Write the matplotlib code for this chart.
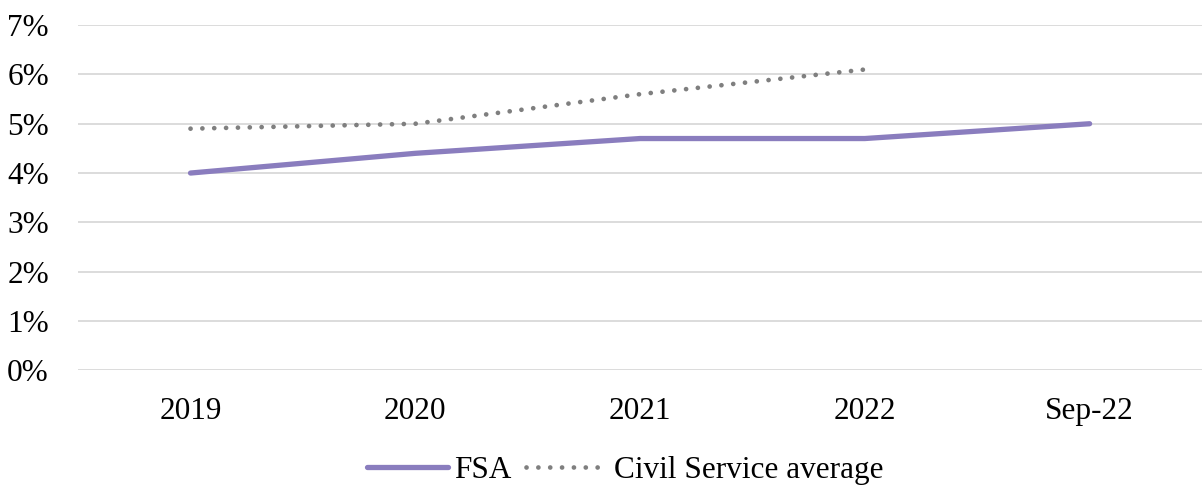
import matplotlib.pyplot as plt
from matplotlib.ticker import PercentFormatter

plt.rcParams['font.family'] = ['Liberation Serif', 'DejaVu Serif']

categories = ['2019', '2020', '2021', '2022', 'Sep-22']
fsa = [4.0, 4.4, 4.7, 4.7, 5.0]
civil_service = [4.9, 5.0, 5.6, 6.1]

fig = plt.figure(figsize=(12.02, 4.93), dpi=100)
ax = fig.add_axes([0.065, 0.249, 0.935, 0.7])

x = list(range(len(categories)))
ax.plot(x, fsa, color='#8A7DBE', lw=3.8, solid_capstyle='round', label='FSA', zorder=3)
ax.plot(x[:len(civil_service)], civil_service, color='#7F7F7F', lw=3.4,
        linestyle=(0, (0.01, 2.5)), dash_capstyle='round', label='Civil Service average', zorder=3)

ax.set_xlim(-0.5, len(categories) - 0.5)
ax.set_ylim(0, 7)
ax.set_yticks(range(0, 8))
ax.yaxis.set_major_formatter(PercentFormatter(decimals=0))
ax.set_xticks(x)
ax.set_xticklabels(categories)
ax.grid(axis='y', color='#D9D9D9', lw=1.3)
ax.set_axisbelow(True)
for s in ax.spines.values():
    s.set_visible(False)
ax.tick_params(length=0, labelsize=22.5, colors='black')
ax.tick_params(axis='y', pad=21)
ax.tick_params(axis='x', pad=19)

fig.legend(*ax.get_legend_handles_labels(), loc='center', bbox_to_anchor=(0.52, 0.045),
           ncol=2, frameon=False, fontsize=22.5, handlelength=2.6, handletextpad=0.2,
           columnspacing=0.45, borderaxespad=0)

fig.savefig('out.png', dpi=100)
